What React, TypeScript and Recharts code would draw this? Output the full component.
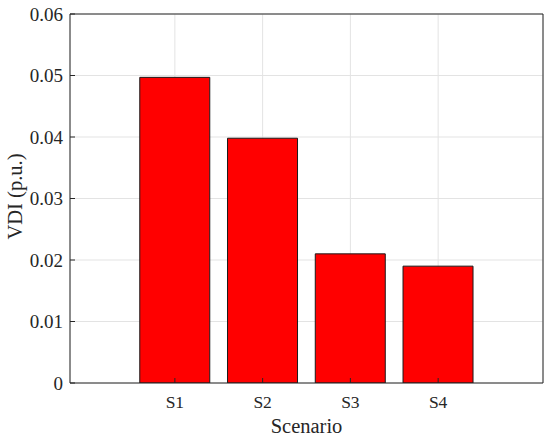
import React from 'react';
import { BarChart, Bar, XAxis, YAxis, CartesianGrid, Label } from 'recharts';

const categories = ['S1', 'S2', 'S3', 'S4'];
const vdiValues = [0.0497, 0.0398, 0.021, 0.019];
const yTicks = [0, 0.01, 0.02, 0.03, 0.04, 0.05, 0.06];

const data = categories.map((c, i) => ({ name: c, vdi: vdiValues[i] }));

const FONT = 'Liberation Serif';
const AXIS = '#262626';

const renderXTick = (props: any) => {
  const { x, y, payload } = props;
  return (
    <text
      key={`xt-${payload.value}`}
      x={x}
      y={y}
      dy="0.71em"
      textAnchor="middle"
      fill={AXIS}
      fontFamily={FONT}
      style={{ fontFamily: FONT, fontSize: 17.5 }}
    >
      {payload.value}
    </text>
  );
};

const renderYTick = (props: any) => {
  const { x, y, payload } = props;
  return (
    <text
      key={`yt-${payload.value}`}
      x={x}
      y={y}
      dy="0.36em"
      textAnchor="end"
      fill={AXIS}
      fontFamily={FONT}
      style={{ fontFamily: FONT, fontSize: 19 }}
    >
      {String(payload.value)}
    </text>
  );
};

export default function App() {
  return (
    <div style={{ position: 'absolute', left: 0, top: 0, background: '#fff', fontFamily: FONT }}>
      <BarChart
        width={550}
        height={441}
        data={data}
        margin={{ top: 13, right: 6, bottom: 0, left: 0 }}
        barCategoryGap="10%"
        style={{ fontFamily: FONT }}
      >
        <CartesianGrid stroke="#e3e3e3" strokeWidth={1} xAxisId="bottom" yAxisId="left" />
        <XAxis
          dataKey="name"
          xAxisId="bottom"
          height={58}
          padding={{ left: 61, right: 61 }}
          axisLine={{ stroke: AXIS, strokeWidth: 1 }}
          tickLine={{ stroke: AXIS }}
          tickSize={-5}
          tickMargin={18}
          fontFamily={FONT}
          fontSize={17.5}
          tick={renderXTick}
        >
          <Label
            content={(props: any) => {
              const vb = props.viewBox || { x: 70, width: 473, y: 383 };
              return (
                <text
                  x={vb.x + vb.width / 2}
                  y={433}
                  textAnchor="middle"
                  fill={AXIS}
                  style={{ fontFamily: FONT, fontSize: 20.5 }}
                >
                  Scenario
                </text>
              );
            }}
          />
        </XAxis>
        <XAxis
          dataKey="name"
          xAxisId="top"
          orientation="top"
          height={1}
          padding={{ left: 61, right: 61 }}
          axisLine={{ stroke: AXIS, strokeWidth: 1 }}
          tickLine={{ stroke: AXIS }}
          tickSize={-5}
          tick={false}
        />
        <YAxis
          yAxisId="left"
          width={70}
          domain={[0, 0.06]}
          ticks={yTicks}
          interval={0}
          allowDataOverflow
          axisLine={{ stroke: AXIS, strokeWidth: 1 }}
          tickLine={{ stroke: AXIS }}
          tickSize={-5}
          tickMargin={12}
          fontFamily={FONT}
          fontSize={19}
          tick={renderYTick}
        >
          <Label
            content={(props: any) => {
              const vb = props.viewBox || { x: 0, y: 14, height: 369 };
              const cy = vb.y + vb.height / 2 - 2;
              return (
                <text
                  x={22}
                  y={cy}
                  transform={`rotate(-90, 22, ${cy})`}
                  textAnchor="middle"
                  fill={AXIS}
                  style={{ fontFamily: FONT, fontSize: 20.5 }}
                >
                  VDI (p.u.)
                </text>
              );
            }}
          />
        </YAxis>
        <YAxis
          yAxisId="right"
          orientation="right"
          width={1}
          domain={[0, 0.06]}
          ticks={yTicks}
          interval={0}
          axisLine={{ stroke: AXIS, strokeWidth: 1 }}
          tickLine={{ stroke: AXIS }}
          tickSize={-5}
          tick={false}
        />
        <Bar
          dataKey="vdi"
          xAxisId="bottom"
          yAxisId="left"
          fill="#ff0000"
          stroke="#1a1a1a"
          strokeWidth={1}
          isAnimationActive={false}
        />
      </BarChart>
    </div>
  );
}
